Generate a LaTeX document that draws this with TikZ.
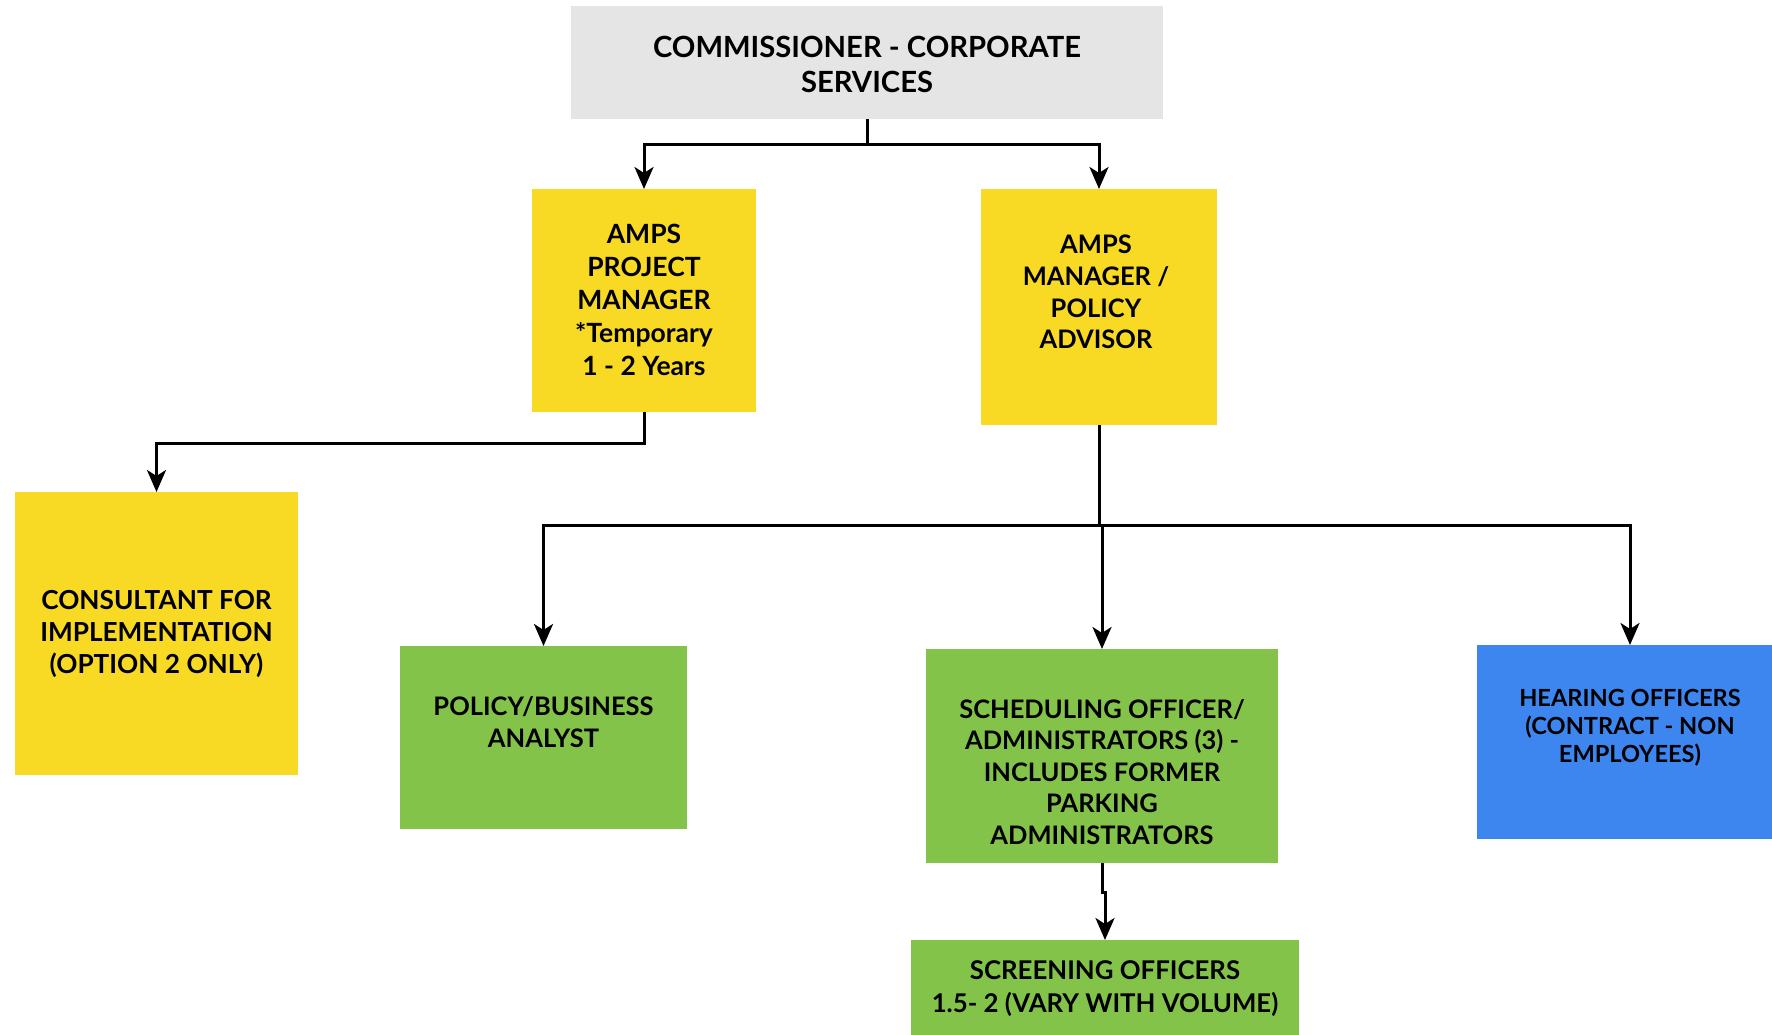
\documentclass[tikz,border=0pt]{standalone}
\usepackage{fontspec}
\setmainfont{Lato}
\usetikzlibrary{arrows.meta}
\definecolor{boxgrey}{HTML}{E5E5E5}
\definecolor{boxyellow}{HTML}{F8DA25}
\definecolor{boxgreen}{HTML}{84C34A}
\definecolor{boxblue}{HTML}{3D85EF}
\tikzset{
  box/.style={rectangle, draw=none, inner sep=0pt, outer sep=0pt},
  txt/.style={align=center, inner sep=0pt, font=\fontsize{25.5}{31.6}\selectfont\bfseries},
  link/.style={line width=3pt, -{Stealth[length=22pt,width=19pt,inset=6pt]}},
  plain/.style={line width=3pt},
}
\begin{document}
\begin{tikzpicture}[x=1pt,y=-1pt]
\useasboundingbox (0,0) rectangle (1772,1035);

% boxes
\node[box, fill=boxgrey, minimum width=592pt, minimum height=113pt] (com) at (867,62.5) {};
\node[box, fill=boxyellow, minimum width=224pt, minimum height=223pt] (pm) at (644,300.5) {};
\node[box, fill=boxyellow, minimum width=236pt, minimum height=236pt] (mgr) at (1099,307) {};
\node[box, fill=boxyellow, minimum width=283pt, minimum height=283pt] (cons) at (156.5,633.5) {};
\node[box, fill=boxgreen, minimum width=287pt, minimum height=183pt] (pol) at (543.5,737.5) {};
\node[box, fill=boxgreen, minimum width=352pt, minimum height=214pt] (sch) at (1102,756) {};
\node[box, fill=boxblue, minimum width=296pt, minimum height=194pt] (hear) at (1625,742) {};
\node[box, fill=boxgreen, minimum width=388pt, minimum height=100pt] (scr) at (1105,990) {};

% labels
\node[txt, font=\fontsize{29.2}{35}\selectfont\bfseries] (comt) at (867,64) {COMMISSIONER - CORPORATE\\SERVICES};
\node[txt, font=\fontsize{26.5}{33}\selectfont\bfseries] (pmt) at (644,300) {AMPS\\PROJECT\\MANAGER\\*Temporary\\1 - 2 Years};
\node[txt] (mgrt) at (1096,292) {AMPS\\MANAGER /\\POLICY\\ADVISOR};
\node[txt, font=\fontsize{26.2}{31.6}\selectfont\bfseries] (const) at (156.5,634) {CONSULTANT FOR\\IMPLEMENTATION\\(OPTION 2 ONLY)};
\node[txt] (polt) at (543.5,722) {POLICY/BUSINESS\\ANALYST};
\node[txt] (scht) at (1102,772) {SCHEDULING OFFICER/\\ADMINISTRATORS (3) -\\INCLUDES FORMER\\PARKING\\ADMINISTRATORS};
\node[txt, font=\fontsize{23.6}{28}\selectfont\bfseries] (heart) at (1630,728) {HEARING OFFICERS\\(CONTRACT - NON\\EMPLOYEES)};
\node[txt, font=\fontsize{25.8}{33}\selectfont\bfseries] (scrt) at (1105,989) {SCREENING OFFICERS\\1.5- 2 (VARY WITH VOLUME)};

% junction points
\coordinate (j1) at (867,145);
\coordinate (j2) at (644,443);
\coordinate (j3) at (1099,525.5);
\coordinate (j4) at (1102,892);
\coordinate (hearin) at (1630,645);

% connectors
\draw[plain] (com.south) -- (j1);
\draw[link] (j1) -| (pm.north);
\draw[link] (j1) -| (mgr.north);
\draw[link] (pm.south) -- (j2) -| (cons.north);
\draw[plain] (mgr.south) -- (j3);
\draw[link] (j3) -| (pol.north);
\draw[link] (j3) -| (sch.north);
\draw[link] (j3) -| (hearin);
\draw[link] (sch.south) -- (j4) -| (scr.north);
\end{tikzpicture}
\end{document}
